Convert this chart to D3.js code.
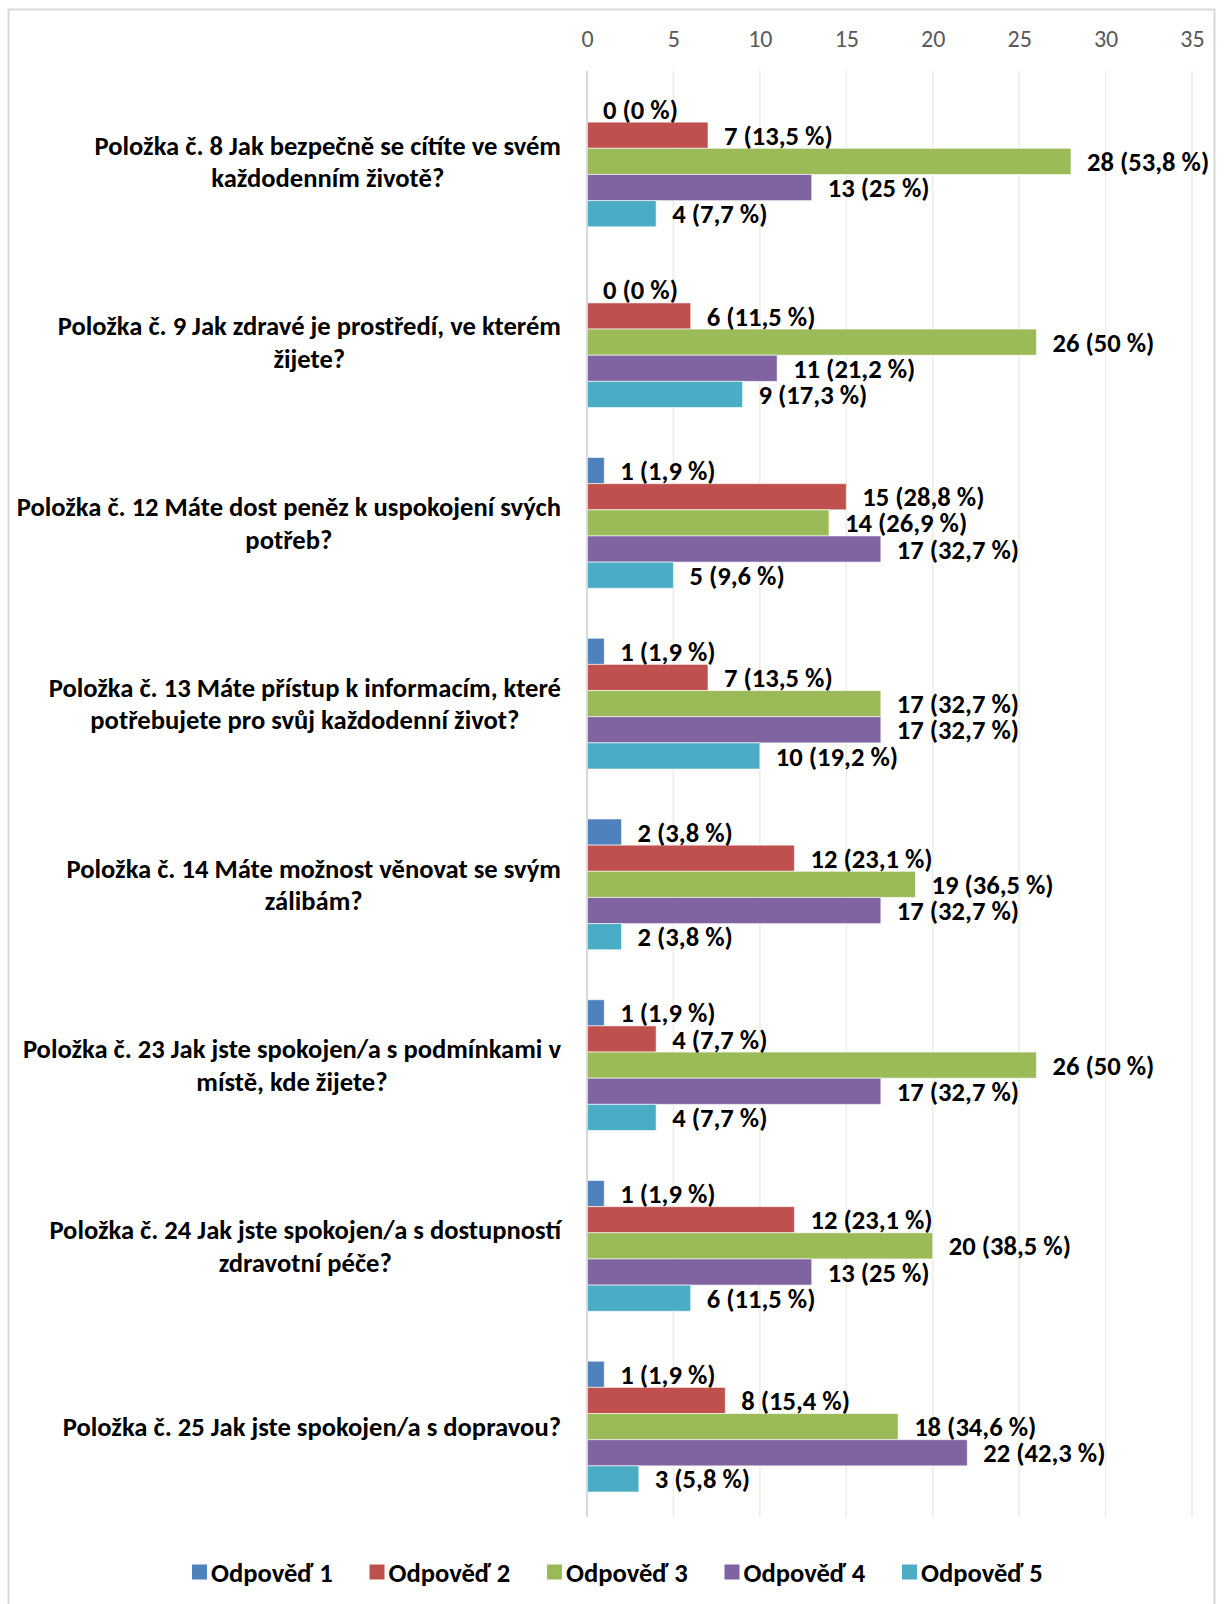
<!DOCTYPE html>
<html>
<head>
<meta charset="utf-8">
<script src="https://cdn.jsdelivr.net/npm/d3@7"></script>
<style>
  html, body { margin: 0; padding: 0; background: #fff; }
  svg { display: block; }
  text { font-family: Carlito, Lato, "Open Sans", sans-serif; }
</style>
</head>
<body>
<svg id="chart" width="1224" height="1604"></svg>
<script>
// ---------- DATA ----------
const categories = [
  ["Položka č. 8 Jak bezpečně se cítíte ve svém", "každodenním životě?"],
  ["Položka č. 9 Jak zdravé je prostředí, ve kterém", "žijete?"],
  ["Položka č. 12 Máte dost peněz k uspokojení svých", "potřeb?"],
  ["Položka č. 13 Máte přístup k informacím, které", "potřebujete pro svůj každodenní život?"],
  ["Položka č. 14 Máte možnost věnovat se svým", "zálibám?"],
  ["Položka č. 23 Jak jste spokojen/a s podmínkami v", "místě, kde žijete?"],
  ["Položka č. 24 Jak jste spokojen/a s dostupností", "zdravotní péče?"],
  ["Položka č. 25 Jak jste spokojen/a s dopravou?"]
];
const seriesNames = ["Odpověď 1", "Odpověď 2", "Odpověď 3", "Odpověď 4", "Odpověď 5"];
const seriesColors = ["#4f81bd", "#c0504d", "#9bbb59", "#8064a2", "#4bacc6"];
// counts per category, order: Odpověď 1..5
const counts = [
  [0, 7, 28, 13, 4],
  [0, 6, 26, 11, 9],
  [1, 15, 14, 17, 5],
  [1, 7, 17, 17, 10],
  [2, 12, 19, 17, 2],
  [1, 4, 26, 17, 4],
  [1, 12, 20, 13, 6],
  [1, 8, 18, 22, 3]
];
const percents = [
  [0, 13.5, 53.8, 25, 7.7],
  [0, 11.5, 50, 21.2, 17.3],
  [1.9, 28.8, 26.9, 32.7, 9.6],
  [1.9, 13.5, 32.7, 32.7, 19.2],
  [3.8, 23.1, 36.5, 32.7, 3.8],
  [1.9, 7.7, 50, 32.7, 7.7],
  [1.9, 23.1, 38.5, 25, 11.5],
  [1.9, 15.4, 34.6, 42.3, 5.8]
];
const xTicks = [0, 5, 10, 15, 20, 25, 30, 35];

// ---------- LAYOUT ----------
const svg = d3.select("#chart");
const plot = { left: 587, right: 1192, top: 71, bottom: 1517 };
const labelFont = 26.6;

// outer frame
svg.append("rect")
  .attr("x", 8.5).attr("y", 9.5)
  .attr("width", 1206).attr("height", 1620)
  .attr("fill", "none").attr("stroke", "#d9d9d9").attr("stroke-width", 2);

const x = d3.scaleLinear().domain([0, 35]).range([plot.left, plot.right]);
const y = d3.scaleBand().domain(d3.range(categories.length))
  .range([plot.top, plot.bottom]).paddingInner(0.2765).paddingOuter(0.1383);
const ySub = d3.scaleBand().domain(d3.range(seriesNames.length)).range([0, y.bandwidth()]);

// gridlines
svg.append("g").selectAll("line").data(xTicks.filter(t => t > 0)).join("line")
  .attr("x1", d => x(d)).attr("x2", d => x(d))
  .attr("y1", plot.top).attr("y2", plot.bottom)
  .attr("stroke", "#ecece4").attr("stroke-width", 1.5);

// top axis labels
const axis = d3.axisTop(x).tickValues(xTicks).tickSize(0).tickPadding(0);
const gAxis = svg.append("g").attr("transform", `translate(0, 47)`).call(axis);
gAxis.select(".domain").remove();
gAxis.selectAll("text")
  .attr("font-family", "Carlito, Lato, sans-serif")
  .attr("font-size", 24).attr("fill", "#595959");

// bars
const fmtPct = v => String(v).replace(".", ",") + "\u00a0%";
categories.forEach((cat, ci) => {
  const g = svg.append("g").attr("transform", `translate(0, ${y(ci)})`);
  const rows = counts[ci].map((v, si) => ({ v, si, p: percents[ci][si] }));
  g.selectAll("rect").data(rows).join("rect")
    .attr("x", x(0))
    .attr("y", d => ySub(d.si))
    .attr("width", d => x(d.v) - x(0))
    .attr("height", ySub.bandwidth())
    .attr("fill", d => seriesColors[d.si])
    .attr("stroke", "#ffffff").attr("stroke-opacity", 0.6).attr("stroke-width", 1);
  g.selectAll("text.val").data(rows).join("text")
    .attr("class", "val")
    .attr("x", d => x(d.v) + 16)
    .attr("y", d => ySub(d.si) + ySub.bandwidth() / 2)
    .attr("dy", "0.36em")
    .attr("font-size", labelFont).attr("font-weight", "bold").attr("fill", "#000")
    .text(d => `${d.v} (${fmtPct(d.p)})`);
});

// zero axis line
svg.append("line")
  .attr("x1", x(0)).attr("x2", x(0))
  .attr("y1", plot.top).attr("y2", plot.bottom)
  .attr("stroke", "#d9d9d9").attr("stroke-width", 2);

// category labels (lines centered to each other, block right-aligned)
const labelRight = 561;
const lineH = 32.5;
categories.forEach((lines, ci) => {
  const cy = y(ci) + y.bandwidth() / 2;
  const g = svg.append("g");
  const texts = lines.map((ln, li) => g.append("text")
    .attr("font-size", labelFont).attr("font-weight", "bold").attr("fill", "#000")
    .attr("text-anchor", "middle")
    .attr("y", cy + (li - (lines.length - 1) / 2) * lineH)
    .attr("dy", "0.36em")
    .text(ln));
  const maxW = d3.max(texts, t => t.node().getComputedTextLength());
  texts.forEach(t => t.attr("x", labelRight - maxW / 2));
});

// legend
const legendY = 1572;
const legendX0 = 192, legendStep = 177.5;
const lg = svg.append("g");
seriesNames.forEach((name, i) => {
  const lx = legendX0 + i * legendStep;
  lg.append("rect").attr("x", lx).attr("y", legendY - 7.5)
    .attr("width", 15).attr("height", 15).attr("fill", seriesColors[i]);
  lg.append("text").attr("x", lx + 19).attr("y", legendY).attr("dy", "0.36em")
    .attr("font-size", labelFont).attr("font-weight", "bold").attr("fill", "#000")
    .text(name);
});
</script>
</body>
</html>
